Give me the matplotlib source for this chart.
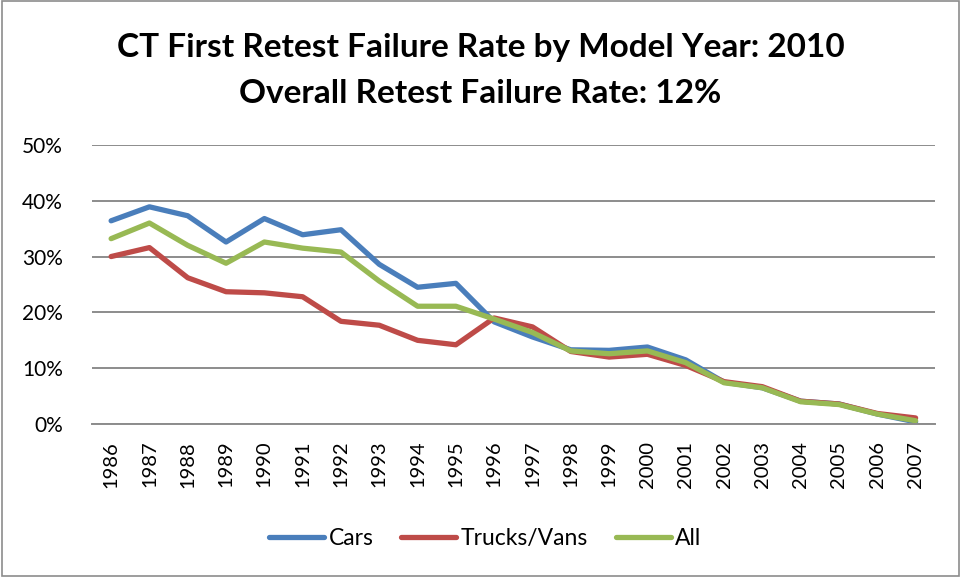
import matplotlib
matplotlib.use("Agg")
import matplotlib.pyplot as plt
from matplotlib.ticker import PercentFormatter
from matplotlib.patches import Rectangle

plt.rcParams['font.family'] = ['Lato', 'DejaVu Sans']

years = list(range(1986, 2008))
cars = [36.4, 38.9, 37.3, 32.6, 36.8, 33.9, 34.8, 28.6, 24.5, 25.2, 18.3, 15.6,
        13.3, 13.2, 13.8, 11.5, 7.5, 6.5, 4.1, 3.6, 1.8, 0.4]
trucks = [30.0, 31.6, 26.2, 23.7, 23.5, 22.8, 18.4, 17.7, 15.0, 14.2, 19.0, 17.4,
          13.0, 12.0, 12.5, 10.5, 7.6, 6.7, 4.1, 3.6, 1.9, 1.1]
all_vals = [33.2, 36.0, 32.0, 28.8, 32.6, 31.5, 30.8, 25.6, 21.1, 21.1, 18.8, 16.4,
            13.1, 12.6, 13.1, 11.0, 7.4, 6.5, 4.0, 3.5, 1.8, 0.6]
series_names = ["Cars", "Trucks/Vans", "All"]
colors = ["#4a7ebb", "#be4b48", "#98b954"]

fig = plt.figure(figsize=(9.61, 5.77), dpi=100)
ax = fig.add_axes([0.0957, 0.265, 0.877, 0.484])

for vals, name, c in zip([cars, trucks, all_vals], series_names, colors):
    ax.plot(years, [v / 100 for v in vals], color=c, lw=3.8, label=name,
            solid_joinstyle='round', solid_capstyle='round')

ax.set_xlim(1985.5, 2007.5)
ax.set_ylim(0, 0.5)
ax.set_yticks([0, 0.1, 0.2, 0.3, 0.4, 0.5])
ax.yaxis.set_major_formatter(PercentFormatter(1.0, decimals=0))
ax.set_xticks(years)
ax.set_xticklabels([str(y) for y in years], rotation=90, fontsize=14.5)
ax.tick_params(axis='y', labelsize=15, length=0, pad=21)
ax.tick_params(axis='x', length=0, pad=12)
ax.grid(axis='y', color='#8c8c8c', lw=1.4)
ax.set_axisbelow(True)
for s in ['top', 'right', 'left']:
    ax.spines[s].set_visible(False)
ax.spines['bottom'].set_color('#8c8c8c')
ax.spines['bottom'].set_linewidth(1.4)

fig.text(0.5, 0.918, "CT First Retest Failure Rate by Model Year: 2010",
         ha='center', va='center', fontsize=24, fontweight='bold')
fig.text(0.5, 0.838, "Overall Retest Failure Rate: 12%",
         ha='center', va='center', fontsize=24, fontweight='bold')

fig.legend(loc='center', bbox_to_anchor=(0.505, 0.067), ncol=3, frameon=False,
           fontsize=16.5, handlelength=2.4, columnspacing=1.2, handletextpad=0.2)

fig.patches.append(Rectangle((0.002, 0.002), 0.996, 0.996, transform=fig.transFigure,
                             fill=False, edgecolor='#8c8c8c', lw=1.2))

fig.savefig("out.png", dpi=100)
